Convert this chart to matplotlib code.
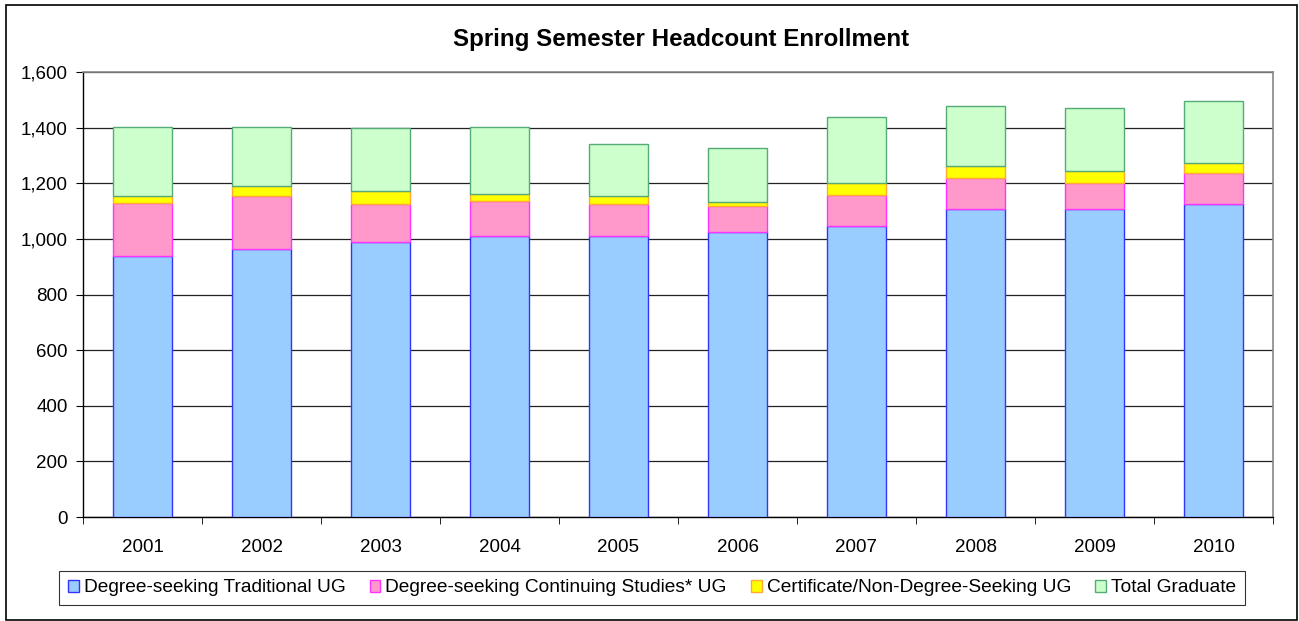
import numpy as np
import matplotlib.pyplot as plt
from matplotlib.patches import Rectangle, Patch
from matplotlib.ticker import FuncFormatter

plt.rcParams['font.family'] = ['Liberation Sans', 'DejaVu Sans']

years = ['2001', '2002', '2003', '2004', '2005', '2006', '2007', '2008', '2009', '2010']
traditional = [940, 965, 989, 1012, 1009, 1025, 1048, 1108, 1108, 1126]
continuing = [190, 189, 137, 123, 115, 93, 109, 111, 92, 111]
certificate = [25, 37, 46, 28, 31, 16, 44, 43, 44, 37]
graduate = [248, 212, 227, 240, 187, 192, 239, 217, 228, 223]

labels = ['Degree-seeking Traditional UG', 'Degree-seeking Continuing Studies* UG',
          'Certificate/Non-Degree-Seeking UG', 'Total Graduate']
faces = ['#99CCFF', '#FF99CC', '#FFFF00', '#CCFFCC']
edges = ['#3333FF', '#FF33FF', '#FFAA33', '#55AA77']

fig = plt.figure(figsize=(12.99, 6.21), dpi=100)
ax = fig.add_axes([83 / 1299, 1 - 517 / 621, (1273 - 83) / 1299, (517 - 72) / 621])

x = np.arange(len(years))
bottom = np.zeros(len(years))
for vals, fc, ec in zip([traditional, continuing, certificate, graduate], faces, edges):
    ax.bar(x, vals, 0.5, bottom=bottom, color=fc, edgecolor=ec, linewidth=1, zorder=3)
    bottom += np.array(vals)

ax.set_xlim(-0.5, len(years) - 0.5)
ax.set_ylim(0, 1600)
ax.set_yticks(range(0, 1601, 200))
ax.yaxis.set_major_formatter(FuncFormatter(lambda v, p: f'{int(v):,}'))
ax.set_xticks(x)
ax.set_xticklabels(years)
ax.set_xticks(np.arange(-0.5, len(years)), minor=True)
ax.tick_params(axis='x', which='major', length=0, pad=16, labelsize=13.5)
ax.tick_params(axis='x', which='minor', length=5, direction='out', color='black')
ax.tick_params(axis='y', length=5, direction='out', labelsize=13.5, pad=6)
ax.grid(axis='y', color='#222222', linewidth=0.9, zorder=0)
ax.set_axisbelow(True)
for s in ['top', 'right']:
    ax.spines[s].set_color('#888888')
    ax.spines[s].set_linewidth(1.2)
for s in ['left', 'bottom']:
    ax.spines[s].set_color('black')
    ax.spines[s].set_linewidth(1)

fig.text(681 / 1299, 1 - 46 / 621, 'Spring Semester Headcount Enrollment',
         ha='center', va='baseline', fontsize=17.4, fontweight='bold')

handles = [Patch(facecolor=fc, edgecolor=ec, linewidth=1) for fc, ec in zip(faces, edges)]
leg = fig.legend(handles, labels, loc='center', bbox_to_anchor=(652 / 1299, 1 - 588 / 621),
                 ncol=4, fontsize=13.8, frameon=True, fancybox=False, edgecolor='black',
                 handlelength=0.57, handleheight=0.57, handletextpad=0.26, columnspacing=1.25,
                 borderpad=0.45)
leg.get_frame().set_linewidth(0.8)

fig.patches.append(Rectangle((6 / 1299, 1 / 621), 1291 / 1299, 615 / 621,
                             transform=fig.transFigure, fill=False, edgecolor='black', linewidth=1.2))

fig.savefig('out.png', dpi=100)
